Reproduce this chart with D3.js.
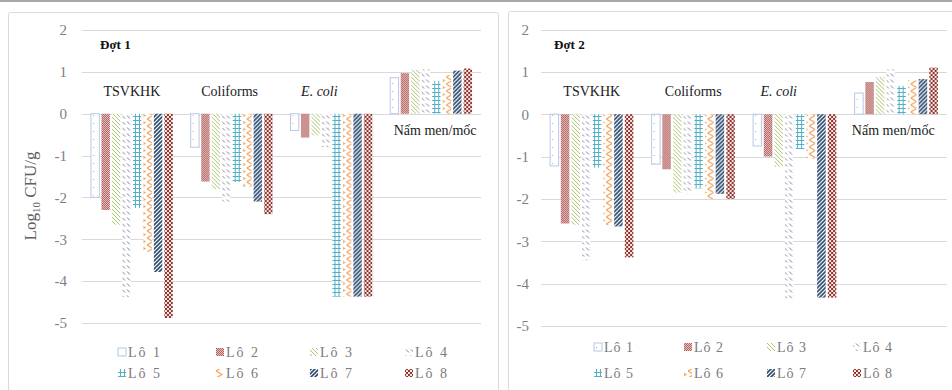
<!DOCTYPE html>
<html><head><meta charset="utf-8">
<script src="https://cdn.jsdelivr.net/npm/d3@7"></script>
<style>body{margin:0;background:#fff}svg{display:block}</style>
</head><body>
<svg id="chart" width="952" height="390"></svg>
<script>
// ---------- data ----------
const categories = ["TSVKHK", "Coliforms", "E. coli", "Nấm men/mốc"];
const seriesNames = ["Lô 1", "Lô 2", "Lô 3", "Lô 4", "Lô 5", "Lô 6", "Lô 7", "Lô 8"];
const batchTitles = ["Đợt 1", "Đợt 2"];
const yTickValues = [2, 1, 0, -1, -2, -3, -4, -5];
const yAxisTitle = "Log";

// Đợt 1 (values for Lô 1..8)
const dot1_TSVKHK    = [-2.0, -2.3, -2.65, -4.38, -2.25, -3.3, -3.78, -4.88];
const dot1_Coliforms = [-0.8, -1.62, -1.8, -2.1, -1.63, -1.75, -2.1, -2.4];
const dot1_Ecoli     = [-0.4, -0.57, -0.52, -0.8, -4.37, -4.37, -4.37, -4.37];
const dot1_NamMen    = [0.86, 0.97, 1.05, 1.06, 0.78, 0.92, 1.03, 1.08];
// Đợt 2
const dot2_TSVKHK    = [-1.22, -2.58, -2.61, -3.45, -1.26, -2.62, -2.65, -3.38];
const dot2_Coliforms = [-1.18, -1.3, -1.85, -1.87, -1.75, -2.0, -1.88, -2.0];
const dot2_Ecoli     = [-0.75, -1.0, -1.24, -4.35, -0.82, -1.05, -4.33, -4.33];
const dot2_NamMen    = [0.5, 0.76, 0.88, 1.06, 0.67, 0.8, 0.83, 1.1];

const batchData = [
  [dot1_TSVKHK, dot1_Coliforms, dot1_Ecoli, dot1_NamMen],
  [dot2_TSVKHK, dot2_Coliforms, dot2_Ecoli, dot2_NamMen]
];

// ---------- styling / layout ----------
const svg = d3.select("#chart");
const defs = svg.append("defs");
const serif = "'Liberation Serif','DejaVu Serif',serif";

function mkPat(id, w, h, draw) {
  const p = defs.append("pattern").attr("id", id).attr("patternUnits", "userSpaceOnUse")
    .attr("width", w).attr("height", h);
  p.append("rect").attr("width", w).attr("height", h).attr("fill", "#fff");
  draw(p);
}
mkPat("p1", 6, 8, p => {
  p.append("rect").attr("x", 2).attr("y", 3).attr("width", 1).attr("height", 1).attr("fill", "#9fb3d4");
});
mkPat("p2", 2, 2, p => {
  p.append("rect").attr("width", 2).attr("height", 2).attr("fill", "#e6c4c3");
  p.append("rect").attr("x", 0).attr("y", 0).attr("width", 1).attr("height", 1).attr("fill", "#b0605c");
  p.append("rect").attr("x", 1).attr("y", 1).attr("width", 1).attr("height", 1).attr("fill", "#b0605c");
});
mkPat("p3", 4, 4, p => {
  p.append("path").attr("d", "M-1,-1L5,5M-1,3L1,5M3,-1L5,1").attr("stroke", "#a9c46d").attr("stroke-width", 1);
});
mkPat("p4", 5, 6, p => {
  p.append("path").attr("d", "M1,1.5L4,4.5").attr("stroke", "#857a9c").attr("stroke-width", 1);
});
mkPat("p5", 4, 4, p => {
  p.append("path").attr("d", "M0,0.5H4M0.5,0V4").attr("stroke", "#4fb0c8").attr("stroke-width", 1);
});
mkPat("p6", 8, 7, p => {
  p.append("path").attr("d", "M0,0L6,3.5L0,7").attr("fill", "none").attr("stroke", "#f5a55f").attr("stroke-width", 1.2);
});
mkPat("p7", 4, 4, p => {
  p.append("path").attr("d", "M-1,5L5,-1M-1,1L1,-1M3,5L5,3").attr("stroke", "#2c4a6e").attr("stroke-width", 1.6);
});
mkPat("p8", 4, 4, p => {
  p.append("rect").attr("width", 4).attr("height", 4).attr("fill", "#8f3532");
  p.append("rect").attr("x", 0).attr("y", 0).attr("width", 2).attr("height", 2).attr("fill", "#f4e4e0");
  p.append("rect").attr("x", 2).attr("y", 2).attr("width", 2).attr("height", 2).attr("fill", "#f4e4e0");
});
const fills = seriesNames.map((d, i) => `url(#p${i + 1})`);
const strokes = ["#b8c8e4", "none", "none", "none", "none", "none", "none", "none"];

// outer top line
svg.append("rect").attr("x", 0).attr("y", 0).attr("width", 952).attr("height", 2).attr("fill", "#a8a8a8");

const panels = [
  { frame: [8.5, 12.5, 490, 400], x0: 82, x1: 481, yTop: 30, yBot: 323, tickX: 67,
    titleX: 100, legX: [128, 226, 320, 415], legY: [352, 373], legSpacing: 2,
    labelDx: [0, -2, -12, 4] },
  { frame: [508.5, 11.5, 460, 400], x0: 541, x1: 947, yTop: 29.5, yBot: 326, tickX: 529,
    titleX: 554, legX: [604, 694, 777, 863], legY: [347, 373], legSpacing: 1,
    labelDx: [0, 0, -16, -3] }
];

panels.forEach((P, pi) => {
  const g = svg.append("g");
  g.append("rect").attr("x", P.frame[0]).attr("y", P.frame[1]).attr("width", P.frame[2]).attr("height", P.frame[3])
    .attr("fill", "#fff").attr("stroke", "#d9d9d9").attr("rx", 2);

  const y = d3.scaleLinear().domain([2, -5]).range([P.yTop, P.yBot]);
  const x0 = d3.scaleBand().domain(categories).range([P.x0, P.x1]).paddingInner(0.18).paddingOuter(0.09);
  const x1 = d3.scaleBand().domain(seriesNames).range([0, x0.bandwidth()]).paddingInner(0.2);

  g.append("g").selectAll("line").data(yTickValues).join("line")
    .attr("x1", P.x0).attr("x2", P.x1).attr("y1", d => Math.round(y(d)) + 0.5).attr("y2", d => Math.round(y(d)) + 0.5)
    .attr("stroke", "#d9d9d9").attr("stroke-width", 1);

  const ax = g.append("g").attr("transform", `translate(${P.tickX + 3},0)`)
    .call(d3.axisLeft(y).tickValues(yTickValues).tickSize(0).tickPadding(3).tickFormat(d => String(d)));
  ax.select(".domain").remove();
  ax.attr("font-family", serif);
  ax.selectAll("text").attr("font-family", serif).attr("font-size", 15).attr("fill", "#808080");

  const data = batchData[pi];
  categories.forEach((c, ci) => {
    g.append("g").attr("transform", `translate(${x0(c)},0)`)
      .selectAll("rect").data(data[ci].map((v, si) => ({ v, si }))).join("rect")
      .attr("x", d => x1(seriesNames[d.si]))
      .attr("width", x1.bandwidth())
      .attr("y", d => Math.min(y(d.v), y(0)))
      .attr("height", d => Math.abs(y(d.v) - y(0)))
      .attr("fill", d => fills[d.si])
      .attr("stroke", d => strokes[d.si]).attr("stroke-width", 1);
  });

  categories.forEach((c, ci) => {
    const positive = d3.mean(data[ci]) > 0;
    const t = g.append("text")
      .attr("x", x0(c) + x0.bandwidth() / 2 + P.labelDx[ci])
      .attr("y", positive ? y(0) + 21 : y(0) - 18)
      .attr("text-anchor", "middle").attr("font-family", serif).attr("font-size", 14).attr("fill", "#1a1a1a")
      .text(c);
    if (c === "E. coli") t.attr("font-style", "italic");
  });

  g.append("text").attr("x", P.titleX).attr("y", 49).attr("font-family", serif)
    .attr("font-size", 13).attr("font-weight", "bold").attr("fill", "#111").text(batchTitles[pi]);

  seriesNames.forEach((s, si) => {
    const col = si % 4, row = Math.floor(si / 4);
    const lx = P.legX[col], ly = P.legY[row];
    g.append("rect").attr("x", lx - 10).attr("y", ly - 4).attr("width", 8).attr("height", 8)
      .attr("fill", fills[si]).attr("stroke", strokes[si]);
    g.append("text").attr("x", lx).attr("y", ly + 5).attr("font-family", serif).attr("font-size", 14)
      .attr("letter-spacing", P.legSpacing).attr("fill", "#7a7a7a").text(s);
  });

  if (pi === 0) {
    const t = g.append("text").attr("transform", "translate(36,196) rotate(-90)")
      .attr("text-anchor", "middle").attr("font-family", serif).attr("font-size", 17).attr("fill", "#606060");
    t.append("tspan").text(yAxisTitle);
    t.append("tspan").attr("font-size", 11).attr("dy", 4).text("10");
    t.append("tspan").attr("dy", -4).text(" CFU/g");
  }
});
</script>
</body></html>
